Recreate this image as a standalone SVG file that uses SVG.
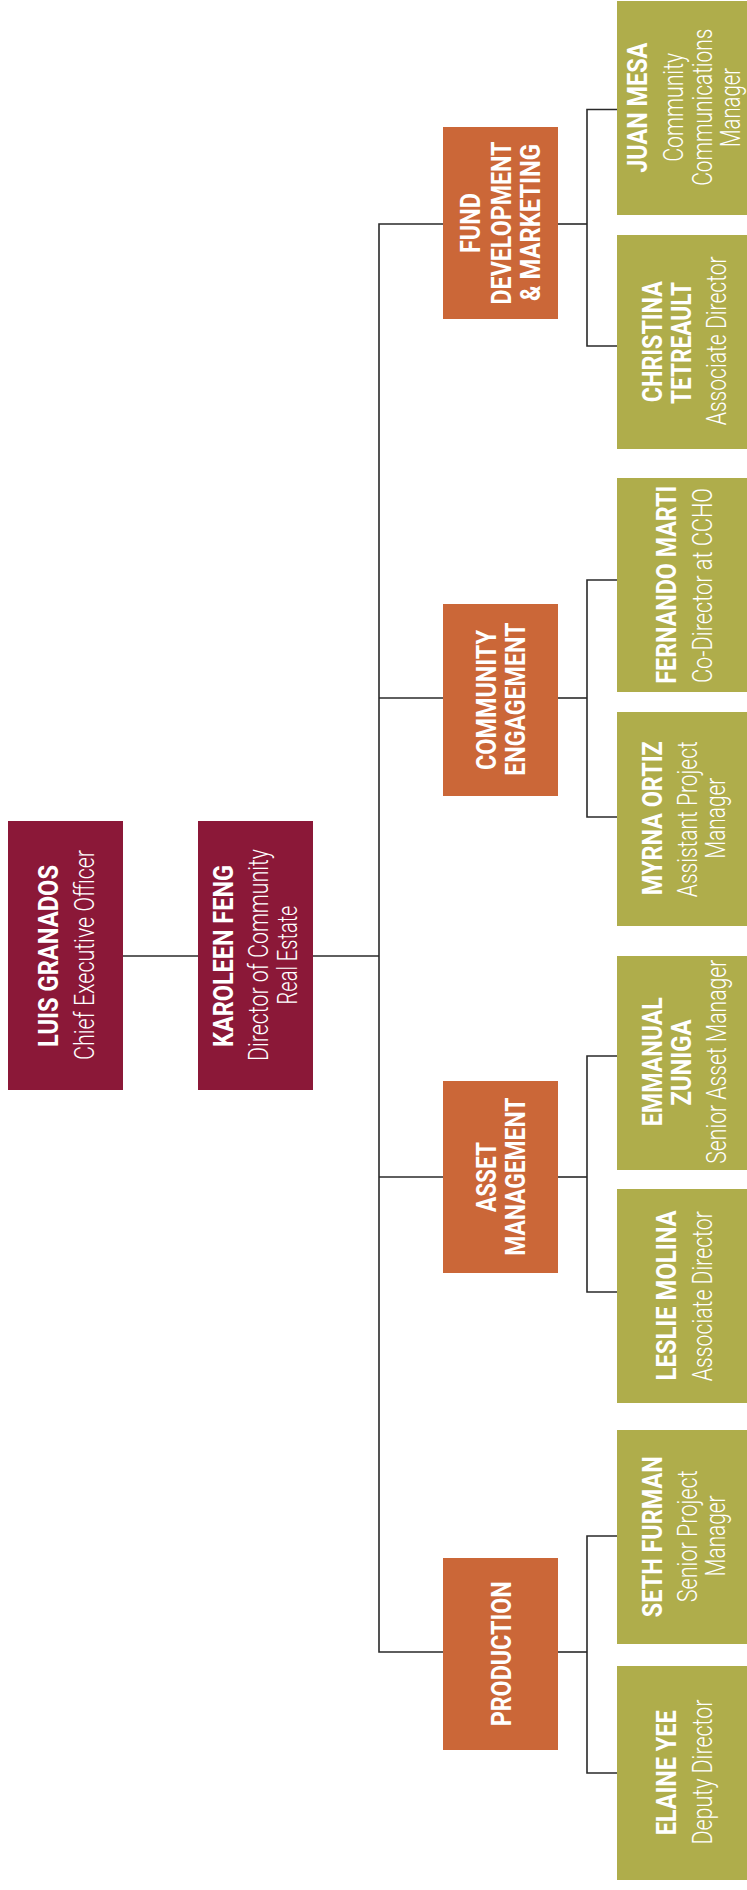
<svg xmlns="http://www.w3.org/2000/svg" width="747" height="1890" viewBox="0 0 747 1890">
<style>
.exec{fill:#8b1838}
.dept{fill:#cb6738}
.staff{fill:#afad4b}
text{fill:#ffffff;font-family:Roboto,"Liberation Sans",sans-serif;font-size:28px;text-anchor:middle}
.b{font-weight:700}
.l{font-weight:300}
.conn{fill:none;stroke:#2a2a2a;stroke-width:1.6}
</style>
<rect width="747" height="1890" fill="#ffffff"/>
<g id="connectors" class="conn">
<path d="M123,956 H198"/>
<path d="M313,956 H379"/>
<path d="M443,224 H379 V1652 H443"/>
<path d="M379,698 H443"/>
<path d="M379,1177 H443"/>
<path d="M558,224 H587"/>
<path d="M617,109.5 H587 V346 H617"/>
<path d="M558,698 H587"/>
<path d="M617,580 H587 V817 H617"/>
<path d="M558,1177 H587"/>
<path d="M617,1056 H587 V1292 H617"/>
<path d="M558,1652 H587"/>
<path d="M617,1536 H587 V1773 H617"/>
</g>
<g id="luis-granados">
<rect class="exec" x="8" y="821" width="115" height="269"/>
<text class="b" transform="translate(58,956) rotate(-90)" textLength="182" lengthAdjust="spacingAndGlyphs">LUIS GRANADOS</text>
<text class="l" transform="translate(94,955) rotate(-90)" textLength="210" lengthAdjust="spacingAndGlyphs">Chief Executive Officer</text>
</g>
<g id="karoleen-feng">
<rect class="exec" x="198" y="821" width="115" height="269"/>
<text class="b" transform="translate(233,956) rotate(-90)" textLength="182" lengthAdjust="spacingAndGlyphs">KAROLEEN FENG</text>
<text class="l" transform="translate(268,955) rotate(-90)" textLength="212" lengthAdjust="spacingAndGlyphs">Director of Community</text>
<text class="l" transform="translate(297,955) rotate(-90)" textLength="99" lengthAdjust="spacingAndGlyphs">Real Estate</text>
</g>
<g id="fund-development">
<rect class="dept" x="443" y="127" width="115" height="192"/>
<text class="b" transform="translate(480,223) rotate(-90)" textLength="60" lengthAdjust="spacingAndGlyphs">FUND</text>
<text class="b" transform="translate(510.5,223) rotate(-90)" textLength="163" lengthAdjust="spacingAndGlyphs">DEVELOPMENT</text>
<text class="b" transform="translate(540,222.5) rotate(-90)" textLength="157" lengthAdjust="spacingAndGlyphs">&amp; MARKETING</text>
</g>
<g id="juan-mesa">
<rect class="staff" x="617" y="1" width="130" height="214"/>
<text class="b" transform="translate(646.5,107.7) rotate(-90)" textLength="130" lengthAdjust="spacingAndGlyphs">JUAN MESA</text>
<text class="l" transform="translate(683,107.3) rotate(-90)" textLength="109" lengthAdjust="spacingAndGlyphs">Community</text>
<text class="l" transform="translate(711.5,107.2) rotate(-90)" textLength="157" lengthAdjust="spacingAndGlyphs">Communications</text>
<text class="l" transform="translate(740,107.5) rotate(-90)" textLength="79" lengthAdjust="spacingAndGlyphs">Manager</text>
</g>
<g id="christina-tetreault">
<rect class="staff" x="617" y="235" width="130" height="214"/>
<text class="b" transform="translate(661.5,341.7) rotate(-90)" textLength="121" lengthAdjust="spacingAndGlyphs">CHRISTINA</text>
<text class="b" transform="translate(690.5,343) rotate(-90)" textLength="122" lengthAdjust="spacingAndGlyphs">TETREAULT</text>
<text class="l" transform="translate(726,340.8) rotate(-90)" textLength="169" lengthAdjust="spacingAndGlyphs">Associate Director</text>
</g>
<g id="community-engagement">
<rect class="dept" x="443" y="604" width="115" height="192"/>
<text class="b" transform="translate(496,700) rotate(-90)" textLength="140" lengthAdjust="spacingAndGlyphs">COMMUNITY</text>
<text class="b" transform="translate(525,699.2) rotate(-90)" textLength="153" lengthAdjust="spacingAndGlyphs">ENGAGEMENT</text>
</g>
<g id="fernando-marti">
<rect class="staff" x="617" y="478" width="130" height="214"/>
<text class="b" transform="translate(675.5,584.7) rotate(-90)" textLength="198" lengthAdjust="spacingAndGlyphs">FERNANDO MARTI</text>
<text class="l" transform="translate(711.5,585.5) rotate(-90)" textLength="195" lengthAdjust="spacingAndGlyphs">Co-Director at CCHO</text>
</g>
<g id="myrna-ortiz">
<rect class="staff" x="617" y="712" width="130" height="214"/>
<text class="b" transform="translate(661.5,818.3) rotate(-90)" textLength="154" lengthAdjust="spacingAndGlyphs">MYRNA ORTIZ</text>
<text class="l" transform="translate(696.5,819.2) rotate(-90)" textLength="156" lengthAdjust="spacingAndGlyphs">Assistant Project</text>
<text class="l" transform="translate(725,818.3) rotate(-90)" textLength="81" lengthAdjust="spacingAndGlyphs">Manager</text>
</g>
<g id="asset-management">
<rect class="dept" x="443" y="1081" width="115" height="192"/>
<text class="b" transform="translate(496,1177) rotate(-90)" textLength="70" lengthAdjust="spacingAndGlyphs">ASSET</text>
<text class="b" transform="translate(525,1176.7) rotate(-90)" textLength="158" lengthAdjust="spacingAndGlyphs">MANAGEMENT</text>
</g>
<g id="emmanual-zuniga">
<rect class="staff" x="617" y="956" width="130" height="214"/>
<text class="b" transform="translate(661.5,1061.7) rotate(-90)" textLength="129" lengthAdjust="spacingAndGlyphs">EMMANUAL</text>
<text class="b" transform="translate(690.5,1062.5) rotate(-90)" textLength="86" lengthAdjust="spacingAndGlyphs">ZUNIGA</text>
<text class="l" transform="translate(726,1061.7) rotate(-90)" textLength="204" lengthAdjust="spacingAndGlyphs">Senior Asset Manager</text>
</g>
<g id="leslie-molina">
<rect class="staff" x="617" y="1189" width="130" height="214"/>
<text class="b" transform="translate(675.5,1295.4) rotate(-90)" textLength="170" lengthAdjust="spacingAndGlyphs">LESLIE MOLINA</text>
<text class="l" transform="translate(711.5,1296.2) rotate(-90)" textLength="170" lengthAdjust="spacingAndGlyphs">Associate Director</text>
</g>
<g id="production">
<rect class="dept" x="443" y="1558" width="115" height="192"/>
<text class="b" transform="translate(510.5,1653.8) rotate(-90)" textLength="145" lengthAdjust="spacingAndGlyphs">PRODUCTION</text>
</g>
<g id="seth-furman">
<rect class="staff" x="617" y="1430" width="130" height="214"/>
<text class="b" transform="translate(661.5,1536.7) rotate(-90)" textLength="161" lengthAdjust="spacingAndGlyphs">SETH FURMAN</text>
<text class="l" transform="translate(696.5,1536.3) rotate(-90)" textLength="132" lengthAdjust="spacingAndGlyphs">Senior Project</text>
<text class="l" transform="translate(725,1536) rotate(-90)" textLength="81" lengthAdjust="spacingAndGlyphs">Manager</text>
</g>
<g id="elaine-yee">
<rect class="staff" x="617" y="1666" width="130" height="214"/>
<text class="b" transform="translate(675.5,1772.8) rotate(-90)" textLength="125" lengthAdjust="spacingAndGlyphs">ELAINE YEE</text>
<text class="l" transform="translate(711.5,1772) rotate(-90)" textLength="145" lengthAdjust="spacingAndGlyphs">Deputy Director</text>
</g>
</svg>
